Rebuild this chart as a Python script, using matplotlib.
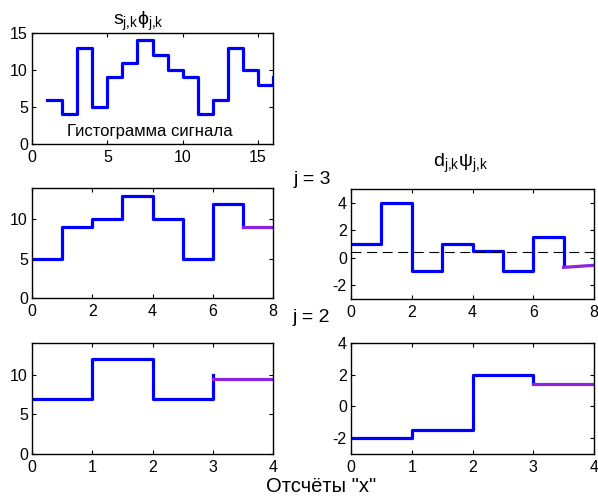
import matplotlib
matplotlib.use("Agg")
import matplotlib.pyplot as plt

plt.rcParams['font.family'] = ['Liberation Sans', 'DejaVu Sans']
plt.rcParams['mathtext.fontset'] = 'custom'
plt.rcParams['mathtext.rm'] = 'Liberation Sans'
plt.rcParams['mathtext.it'] = 'Liberation Sans'
plt.rcParams['mathtext.bf'] = 'Liberation Sans:bold'
plt.rcParams['mathtext.sf'] = 'Liberation Sans'
plt.rcParams['axes.unicode_minus'] = False

# ---- data ----
sig_x = list(range(1, 17))
sig_y = [6, 4, 13, 5, 9, 11, 14, 12, 10, 9, 4, 6, 13, 10, 8, 9]

s3_x = [0, 1, 2, 3, 4, 5, 6, 7]
s3_y = [5, 9, 10, 13, 10, 5, 12, 9]
s3_ext_x = [7, 8]
s3_ext_y = [9, 9]

d3_x = [0, 1, 2, 3, 4, 5, 6, 7]
d3_y = [1, 4, -1, 1, 0.5, -1, 1.5, -0.45]
d3_ext_x = [7, 8]
d3_ext_y = [-0.7, -0.55]
d3_ref_x = [0, 8]
d3_ref_y = [0.4, 0.4]

s2_x = [0, 1, 2, 3]
s2_y = [7, 12, 7, 10]
s2_ext_x = [3, 4]
s2_ext_y = [9.5, 9.5]

d2_x = [0, 1, 2, 3]
d2_y = [-2, -1.5, 2, 1.5]
d2_ext_x = [3, 4]
d2_ext_y = [1.4, 1.4]

BLUE = '#0000ff'
PURPLE = '#8a24e0'
W, H = 598, 496

fig = plt.figure(figsize=(W / 100, H / 100), dpi=100)


def box(l, t, r, b):
    return [l / W, 1 - b / H, (r - l) / W, (b - t) / H]


def style(ax, xlim, xticks, ylim, yticks):
    ax.set_xlim(*xlim)
    ax.set_ylim(*ylim)
    ax.set_xticks(xticks)
    ax.set_yticks(yticks)
    ax.tick_params(direction='in', top=True, right=True, length=3, width=0.8,
                   labelsize=11.5, pad=3)
    ax.tick_params(axis='x', pad=4)
    for s in ax.spines.values():
        s.set_linewidth(1.0)


LW = 2.3

ax0 = fig.add_axes(box(32, 33, 273, 144))
ax0.step(sig_x, sig_y, where='post', color=BLUE, lw=LW)
style(ax0, (0, 16), [0, 5, 10, 15], (0, 15), [0, 5, 10, 15])
fig.text(150 / W, 1 - 136 / H, 'Гистограмма сигнала', ha='center', va='baseline', fontsize=12)

ax1 = fig.add_axes(box(32, 188, 273, 298))
ax1.step(s3_x, s3_y, where='post', color=BLUE, lw=LW)
ax1.plot(s3_ext_x, s3_ext_y, color=PURPLE, lw=LW)
style(ax1, (0, 8), [0, 2, 4, 6, 8], (0, 14), [0, 5, 10])

ax2 = fig.add_axes(box(351, 189, 594, 299))
ax2.step(d3_x, d3_y, where='post', color=BLUE, lw=LW)
ax2.plot(d3_ext_x, d3_ext_y, color=PURPLE, lw=LW)
ax2.plot(d3_ref_x, d3_ref_y, color='black', lw=0.8, ls=(0, (9, 5)))
style(ax2, (0, 8), [0, 2, 4, 6, 8], (-3, 5), [-2, 0, 2, 4])

ax3 = fig.add_axes(box(32, 343, 273, 454))
ax3.step(s2_x, s2_y, where='post', color=BLUE, lw=LW)
ax3.plot(s2_ext_x, s2_ext_y, color=PURPLE, lw=LW)
style(ax3, (0, 4), [0, 1, 2, 3, 4], (0, 14), [0, 5, 10])

ax4 = fig.add_axes(box(351, 343, 594, 454))
ax4.step(d2_x, d2_y, where='post', color=BLUE, lw=LW)
ax4.plot(d2_ext_x, d2_ext_y, color=PURPLE, lw=LW)
style(ax4, (0, 4), [0, 1, 2, 3, 4], (-3, 4), [-2, 0, 2, 4])

fig.text(138 / W, 1 - 25 / H, r'$\mathregular{s_{j{,}k}\phi_{j{,}k}}$', ha='center', va='baseline', fontsize=14)
fig.text(460 / W, 1 - 167 / H, r'$\mathregular{d_{j{,}k}\psi_{j{,}k}}$', ha='center', va='baseline', fontsize=14)
fig.text(312 / W, 1 - 179 / H, 'j = 3', ha='center', va='center', fontsize=14)
fig.text(311 / W, 1 - 318 / H, 'j = 2', ha='center', va='center', fontsize=14)
fig.text(321 / W, 1 - 492 / H, 'Отсчёты "x"', ha='center', va='baseline', fontsize=14.5)

fig.savefig('out.png', dpi=100)
